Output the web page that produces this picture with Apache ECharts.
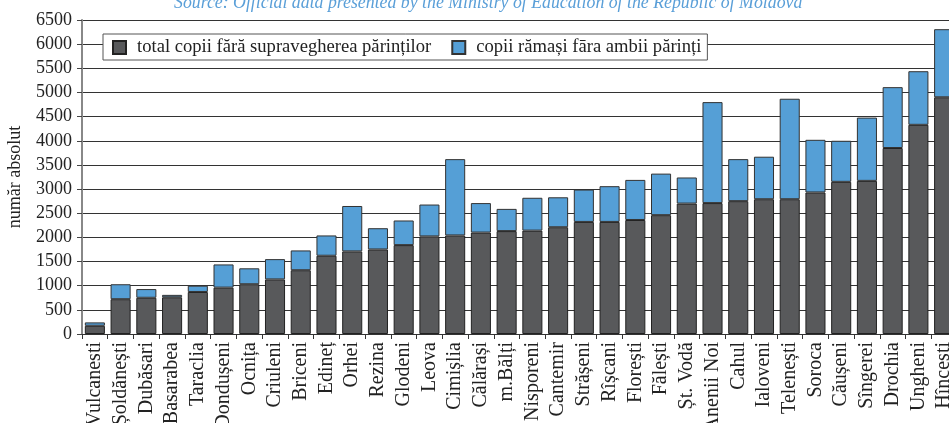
<!DOCTYPE html>
<html>
<head>
<meta charset="utf-8">
<style>
  html, body { margin: 0; padding: 0; background: #fff; }
  #chart_con { width: 949px; height: 423px; }
</style>
<script src="https://cdn.jsdelivr.net/npm/echarts@6/dist/echarts.min.js"></script>
</head>
<body>
<div id="chart_con"></div>
<script>
// raioane, sorted by children left without parental care
const districts = ['Vulcanesti', 'Șoldănești', 'Dubăsari', 'Basarabea', 'Taraclia', 'Dondușeni', 'Ocnița',
    'Criuleni', 'Briceni', 'Edineț', 'Orhei', 'Rezina', 'Glodeni', 'Leova', 'Cimișlia', 'Călărași', 'm.Bălți',
    'Nisporeni', 'Cantemir', 'Strășeni', 'Rîșcani', 'Florești', 'Fălești', 'Șt. Vodă', 'Anenii Noi', 'Cahul',
    'Ialoveni', 'Telenești', 'Soroca', 'Căușeni', 'Sîngerei', 'Drochia', 'Ungheni', 'Hîncești'];

// lower (dark) segment
const withoutCare = [170, 720, 750, 760, 870, 960, 1030, 1130, 1320, 1620, 1710, 1750, 1840, 2020, 2040, 2100,
    2130, 2140, 2210, 2320, 2320, 2360, 2460, 2700, 2710, 2750, 2790, 2790, 2930, 3150, 3170, 3850, 4330, 4900];

// upper (blue) segment
const bothParentsAway = [70, 310, 180, 50, 130, 480, 330, 420, 410, 420, 940, 440, 510, 660, 1580, 610,
    460, 680, 620, 670, 740, 830, 860, 540, 2090, 870, 880, 2080, 1090, 850, 1310, 1260, 1110, 1410];

const yTicks = [0, 500, 1000, 1500, 2000, 2500, 3000, 3500, 4000, 4500, 5000, 5500, 6000, 6500];

const serif = '"Liberation Serif", "DejaVu Serif", serif';

const option = {
    animation: false,
    title: {
        text: 'Source: Official data presented by the Ministry of Education of the Republic of Moldova',
        left: 169,
        top: -11,
        textStyle: {
            fontFamily: serif,
            fontStyle: 'italic',
            fontWeight: 'normal',
            fontSize: 17.8,
            color: '#5a9fd8'
        }
    },
    legend: {
        left: 103,
        top: 34,
        orient: 'horizontal',
        icon: 'rect',
        backgroundColor: '#fff',
        borderColor: '#555',
        borderWidth: 1,
        borderRadius: 0,
        padding: [4, 6, 3, 9],
        itemWidth: 13,
        itemHeight: 13,
        itemGap: 20,
        textStyle: {
            fontFamily: serif,
            fontSize: 18.6,
            color: '#222',
            padding: [0, 0, 0, 6]
        },
        data: ['total copii fără supravegherea părinților', 'copii rămași fāra ambii părinți']
    },
    grid: {
        left: 82,
        right: -8,
        top: 20,
        bottom: 89,
        containLabel: false,
        outerBoundsMode: 'none'
    },
    xAxis: {
        type: 'category',
        data: districts,
        axisLine: {lineStyle: {color: '#333', width: 1}},
        axisTick: {show: true, alignWithLabel: false, length: 5, lineStyle: {color: '#333'}},
        axisLabel: {
            interval: 0,
            rotate: 90,
            margin: 8,
            fontFamily: serif,
            fontSize: 20,
            color: '#222'
        }
    },
    yAxis: {
        type: 'value',
        min: 0,
        max: yTicks[yTicks.length - 1],
        interval: 500,
        name: 'număr absolut',
        nameLocation: 'middle',
        nameRotate: 90,
        nameGap: 58,
        nameTextStyle: {fontFamily: serif, fontSize: 18, color: '#222'},
        axisLine: {show: true, lineStyle: {color: '#888', width: 2}},
        axisTick: {show: true, length: 5, lineStyle: {color: '#444'}},
        axisLabel: {
            margin: 10,
            fontFamily: serif,
            fontSize: 18,
            color: '#222',
            formatter: function (v) { return String(v); }
        },
        splitLine: {show: true, lineStyle: {color: '#333', width: 1}}
    },
    series: [
        {
            name: 'total copii fără supravegherea părinților',
            type: 'bar',
            stack: 'copii',
            data: withoutCare,
            barCategoryGap: '22%',
            itemStyle: {color: '#58595b', borderColor: '#222', borderWidth: 1}
        },
        {
            name: 'copii rămași fāra ambii părinți',
            type: 'bar',
            stack: 'copii',
            data: bothParentsAway,
            barCategoryGap: '22%',
            itemStyle: {color: '#559fd6', borderColor: '#333', borderWidth: 1}
        }
    ]
};

const chart = echarts.init(document.getElementById('chart_con'));
chart.setOption(option);
window.addEventListener('resize', function () {
    chart.resize();
});
</script>
</body>
</html>
